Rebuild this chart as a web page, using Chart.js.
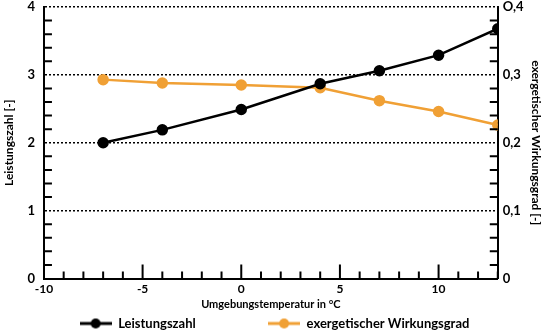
<!DOCTYPE html>
<html>
<head>
<meta charset="utf-8">
<script src="https://cdn.jsdelivr.net/npm/chart.js@4"></script>
<style>
  html, body { margin: 0; padding: 0; background: #fff; }
  #wrap { width: 547px; height: 335px; }
</style>
</head>
<body>
<div id="wrap"><canvas id="myChart" width="547" height="335"></canvas></div>
<script>
'use strict';

// data
const temperatures = [ -7, -4, 0, 4, 7, 10, 13 ];
const leistungszahl = [ 2.0, 2.19, 2.49, 2.87, 3.06, 3.29, 3.68 ];
const wirkungsgrad = [ 0.293, 0.288, 0.285, 0.281, 0.262, 0.246, 0.226 ];
const rightTickLabels = { 0: '0', 0.1: '0,1', 0.2: '0,2', 0.3: '0,3', 0.4: 'O,4' };

const ORANGE = '#f0a035';
const FONT = 'Lato';

function legendIcon( color ) {
  let c = document.createElement( 'canvas' );
  c.width = 32;
  c.height = 12;
  let g = c.getContext( '2d' );
  g.strokeStyle = color;
  g.lineWidth = 3;
  g.beginPath();
  g.moveTo( 0, 6 );
  g.lineTo( 32, 6 );
  g.stroke();
  g.fillStyle = color;
  g.beginPath();
  g.arc( 16, 6, 5, 0, Math.PI * 2 );
  g.fill();
  return c;
}
const icons = [ legendIcon( '#000' ), legendIcon( ORANGE ) ];
// extra gap after the first legend entry
const legendGap = [ '                     ', '' ];

// tick padding would otherwise push the plot top down
function tightTop( scale ) {
  scale.paddingTop = 7;
  scale.paddingBottom = 7;
}

// small ticks pointing into the plot, like the original
const innerTicks = {
  id: 'innerTicks',
  afterDraw( chart ) {
    const ctx = chart.ctx;
    const x = chart.scales.x;
    const y = chart.scales.y;
    const y2 = chart.scales.y2;
    const area = chart.chartArea;
    ctx.save();
    ctx.strokeStyle = '#000';
    ctx.lineWidth = 2;
    ctx.beginPath();
    for ( let v = -9; v <= 13; v++ ) {
      let px = x.getPixelForValue( v );
      let len = v % 5 === 0 ? 14 : 7;
      ctx.moveTo( px, area.bottom );
      ctx.lineTo( px, area.bottom - len );
    }
    for ( let i = 1; i < 20; i++ ) {
      if ( i % 5 === 0 ) continue;
      let py = y.getPixelForValue( i * 0.2 );
      ctx.moveTo( area.left, py );
      ctx.lineTo( area.left + 8, py );
      let py2 = y2.getPixelForValue( i * 0.02 );
      ctx.moveTo( area.right, py2 );
      ctx.lineTo( area.right - 8, py2 );
    }
    ctx.stroke();
    ctx.restore();
  }
};

const ctx = document.getElementById( 'myChart' ).getContext( '2d' );
const myChart = new Chart( ctx, {
  type: 'line',
  data: {
    labels: temperatures,
    datasets: [ {
      label: 'Leistungszahl',
      data: temperatures.map( ( t, i ) => ( { x: t, y: leistungszahl[i] } ) ),
      borderColor: '#000',
      backgroundColor: '#000',
      borderWidth: 2.5,
      pointRadius: 4.5,
      yAxisID: 'y'
    }, {
      label: 'exergetischer Wirkungsgrad',
      data: temperatures.map( ( t, i ) => ( { x: t, y: wirkungsgrad[i] } ) ),
      borderColor: ORANGE,
      backgroundColor: ORANGE,
      borderWidth: 2.5,
      pointRadius: 4.5,
      yAxisID: 'y2'
    } ]
  },
  options: {
    responsive: false,
    animation: false,
    layout: { padding: { top: 0, left: 2, right: 0, bottom: -5 } },
    plugins: {
      tooltip: { enabled: false },
      legend: {
        position: 'bottom',
        labels: {
          usePointStyle: true,
          pointStyleWidth: 32,
          padding: 6,
          color: '#000',
          font: { family: FONT, size: 13, weight: 'bold' },
          generateLabels( chart ) {
            const items = Chart.defaults.plugins.legend.labels.generateLabels( chart );
            items.forEach( ( it, i ) => {
              it.pointStyle = icons[i];
              it.text = it.text + legendGap[i];
            } );
            return items;
          }
        }
      }
    },
    scales: {
      x: {
        type: 'linear',
        min: -10,
        max: 13,
        grid: { display: false, drawTicks: false },
        border: { color: '#000', width: 2 },
        ticks: {
          stepSize: 5,
          includeBounds: false,
          padding: 3,
          color: '#000',
          font: { family: FONT, size: 12, weight: 'bold' }
        },
        title: {
          display: true,
          text: 'Umgebungstemperatur in °C',
          color: '#000',
          padding: { top: 0, bottom: 0 },
          font: { family: FONT, size: 11, weight: 'bold', lineHeight: 1.1 }
        }
      },
      y: {
        position: 'left',
        min: 0,
        max: 4,
        afterFit: tightTop,
        grid: { color: '#000', lineWidth: 1.5, drawTicks: false },
        border: { color: '#000', width: 2, dash: [ 2, 2 ] },
        ticks: {
          stepSize: 1,
          padding: 9,
          color: '#000',
          font: { family: FONT, size: 13, weight: 'bold' }
        },
        title: {
          display: true,
          text: 'Leistungszahl [-]',
          color: '#000',
          padding: { top: 0, bottom: 2 },
          font: { family: FONT, size: 12, weight: 'bold' }
        }
      },
      y2: {
        position: 'right',
        min: 0,
        max: 0.4,
        afterFit: tightTop,
        grid: { display: false, drawTicks: false },
        border: { color: '#000', width: 2 },
        ticks: {
          stepSize: 0.1,
          padding: 5,
          color: '#000',
          font: { family: FONT, size: 13, weight: 'bold' },
          callback: ( v ) => rightTickLabels[ Math.round( v * 10 ) / 10 ]
        },
        title: {
          display: true,
          text: 'exergetischer Wirkungsgrad [-]',
          color: '#000',
          padding: { top: 4, bottom: 0 },
          font: { family: FONT, size: 12, weight: 'bold' }
        }
      }
    }
  },
  plugins: [ innerTicks ]
} );
</script>
</body>
</html>
